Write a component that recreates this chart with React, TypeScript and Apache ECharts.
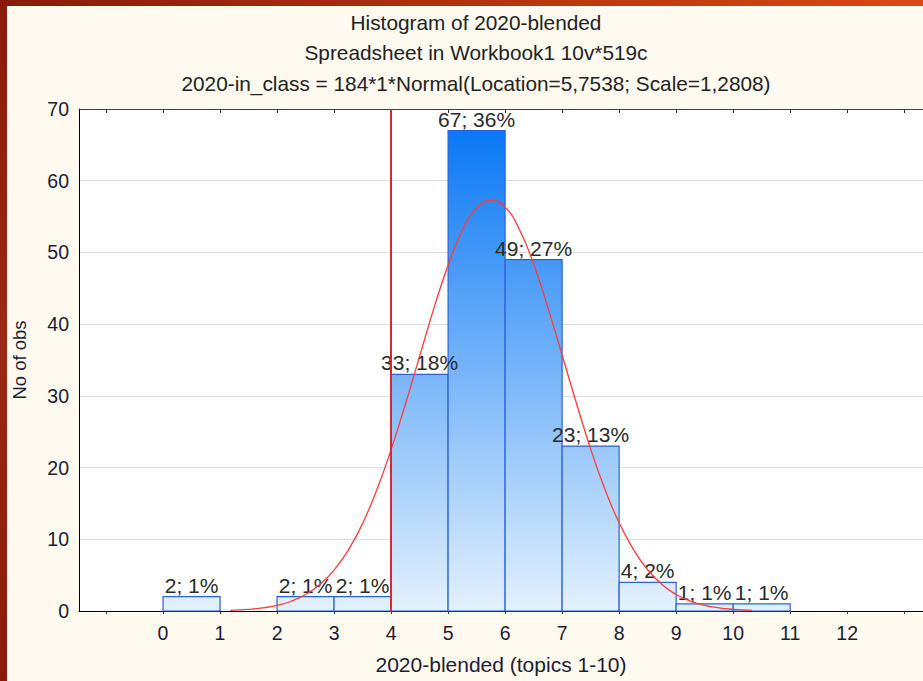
import React, { useEffect, useRef } from "react";
import * as echarts from "echarts";

// ---- data ----
const binStarts = [0, 1, 2, 3, 4, 5, 6, 7, 8, 9, 10];
const binWidth = 1;
const counts = [2, 0, 2, 2, 33, 67, 49, 23, 4, 1, 1];
const pctLabels = ["1%", "0%", "1%", "1%", "18%", "36%", "27%", "13%", "2%", "1%", "1%"];

const curveX = [1.18, 1.25, 1.5, 1.75, 2, 2.25, 2.5, 2.75, 3, 3.25, 3.5, 3.75, 4, 4.25, 4.5, 4.75, 5, 5.25, 5.5, 5.75, 6, 6.25, 6.5, 6.75, 7, 7.25, 7.5, 7.75, 8, 8.25, 8.5, 8.75, 9, 9.25, 9.5, 9.75, 10, 10.25, 10.33];
const curveY = [0.1, 0.12, 0.23, 0.43, 0.78, 1.36, 2.3, 3.7, 5.7, 8.5, 12.2, 16.9, 22.5, 28.8, 35.5, 42.2, 48.2, 53.1, 56.2, 57.3, 56.3, 53.2, 48.4, 42.3, 35.7, 29, 22.6, 17, 12.3, 8.6, 5.75, 3.7, 2.3, 1.38, 0.79, 0.44, 0.24, 0.12, 0.1];

const markX = 4;
const xTickValues = [-1, 0, 1, 2, 3, 4, 5, 6, 7, 8, 9, 10, 11, 12, 13];
const xLabelValues = [0, 1, 2, 3, 4, 5, 6, 7, 8, 9, 10, 11, 12];

const titleLines = [
  "Histogram of 2020-blended",
  "Spreadsheet in Workbook1 10v*519c",
  "2020-in_class = 184*1*Normal(Location=5,7538; Scale=1,2808)",
];
const xTitle = "2020-blended (topics 1-10)";
const yTitle = "No of obs";

const FONT = "'Liberation Sans', Arial, sans-serif";
const TXT = "#1c1c34";

export default function App() {
  const ref = useRef<HTMLDivElement>(null);

  useEffect(() => {
    if (!ref.current) return;
    const chart = echarts.init(ref.current, undefined, { renderer: "svg" });

    const barData = binStarts.map((s, i) => [s, s + binWidth, counts[i], pctLabels[i]]);
    const curveData = curveX.map((x, i) => [x, curveY[i]]);

    const option: any = {
      animation: false,
      backgroundColor: "#fffaef",
      textStyle: { fontFamily: FONT },
      title: {
        text: titleLines.join("\n"),
        left: 471,
        top: 2,
        textAlign: "center",
        textStyle: {
          fontFamily: FONT,
          fontSize: 20.8,
          fontWeight: "normal",
          color: "#222",
          lineHeight: 30.5,
        },
      },
      graphic: [
        {
          type: "rect",
          z: 100,
          shape: { x: 0, y: 0, width: 7, height: 681 },
          style: {
            fill: new echarts.graphic.LinearGradient(0, 0, 0, 1, [
              { offset: 0, color: "#8a190a" },
              { offset: 0.5, color: "#9a2a14" },
              { offset: 1, color: "#8a190a" },
            ]),
          },
        },
        {
          type: "rect",
          z: 100,
          shape: { x: 0, y: 0, width: 923, height: 6 },
          style: {
            fill: new echarts.graphic.LinearGradient(0, 0, 1, 0, [
              { offset: 0, color: "#8a190a" },
              { offset: 1, color: "#dd4619" },
            ]),
          },
        },
      ],
      grid: {
        left: 79,
        right: 0,
        top: 109,
        bottom: 70,
        show: true,
        backgroundColor: "#ffffff",
        borderWidth: 0,
      },
      xAxis: [
        {
          type: "value",
          min: -1.474,
          max: 13.33,
          position: "bottom",
          name: xTitle,
          nameLocation: "middle",
          nameGap: 43,
          nameTextStyle: { fontSize: 21, color: TXT, fontFamily: FONT },
          axisLine: { show: true, onZero: false, lineStyle: { color: "#000", width: 1 } },
          axisTick: { show: true, length: 3, lineStyle: { color: "#333" }, customValues: xTickValues },
          axisLabel: {
            show: true,
            fontSize: 19.5,
            color: TXT,
            margin: 12,
            fontFamily: FONT,
            customValues: xLabelValues,
          },
          splitLine: { show: false },
        },
        {
          type: "value",
          min: -1.474,
          max: 13.33,
          position: "top",
          axisLine: { show: true, onZero: false, lineStyle: { color: "#444", width: 1 } },
          axisTick: { show: true, inside: true, length: 4, lineStyle: { color: "#333" }, customValues: xTickValues },
          axisLabel: { show: false },
          splitLine: { show: false },
        },
      ],
      yAxis: {
        type: "value",
        min: 0,
        max: 70,
        interval: 10,
        name: yTitle,
        nameLocation: "middle",
        nameGap: 50,
        nameTextStyle: { fontSize: 18.5, color: TXT, fontFamily: FONT },
        axisLine: { show: true, onZero: false, lineStyle: { color: "#000", width: 1 } },
        axisTick: { show: false },
        axisLabel: { fontSize: 19.5, color: TXT, margin: 10, fontFamily: FONT },
        splitLine: { show: true, lineStyle: { color: "#dedede", width: 1 } },
      },
      series: [
        {
          type: "custom",
          xAxisIndex: 0,
          yAxisIndex: 0,
          z: 3,
          encode: { x: [0, 1], y: 2 },
          data: barData,
          renderItem: (params: any, api: any) => {
            const x0 = api.value(0);
            const x1 = api.value(1);
            const v = api.value(2);
            if (!v) return null;
            const pct = barData[params.dataIndex][3];
            const tl = api.coord([x0, v]);
            const br = api.coord([x1, 0]);
            const gTop = api.coord([0, 67])[1];
            const gBot = api.coord([0, 0])[1];
            const fill = new echarts.graphic.LinearGradient(
              0, gTop, 0, gBot,
              [
                { offset: 0, color: "#0a78f5" },
                { offset: 1, color: "#e4f1fd" },
              ],
              true
            );
            return {
              type: "group",
              children: [
                {
                  type: "rect",
                  shape: { x: tl[0], y: tl[1], width: br[0] - tl[0], height: br[1] - tl[1] },
                  style: { fill, stroke: "#2b62d8", lineWidth: 1.2 },
                },
                {
                  type: "text",
                  z2: 50,
                  x: (tl[0] + br[0]) / 2,
                  y: tl[1] - 1,
                  style: {
                    text: v + "; " + pct,
                    textAlign: "center",
                    textVerticalAlign: "bottom",
                    fontSize: 21,
                    fontFamily: FONT,
                    fill: "#2a2a2a",
                  },
                },
              ],
            };
          },
        },
        {
          type: "line",
          xAxisIndex: 0,
          yAxisIndex: 0,
          z: 4,
          data: curveData,
          smooth: true,
          showSymbol: false,
          symbol: "none",
          lineStyle: { color: "#ff3a3a", width: 1.3 },
          markLine: {
            silent: true,
            symbol: "none",
            label: { show: false },
            lineStyle: { color: "#d42a2a", width: 2, type: "solid" },
            data: [{ xAxis: markX }],
          },
        },
      ],
    };

    chart.setOption(option);
    return () => chart.dispose();
  }, []);

  return (
    <div
      ref={ref}
      style={{ position: "fixed", left: 0, top: 0, width: 923, height: 681 }}
    />
  );
}
